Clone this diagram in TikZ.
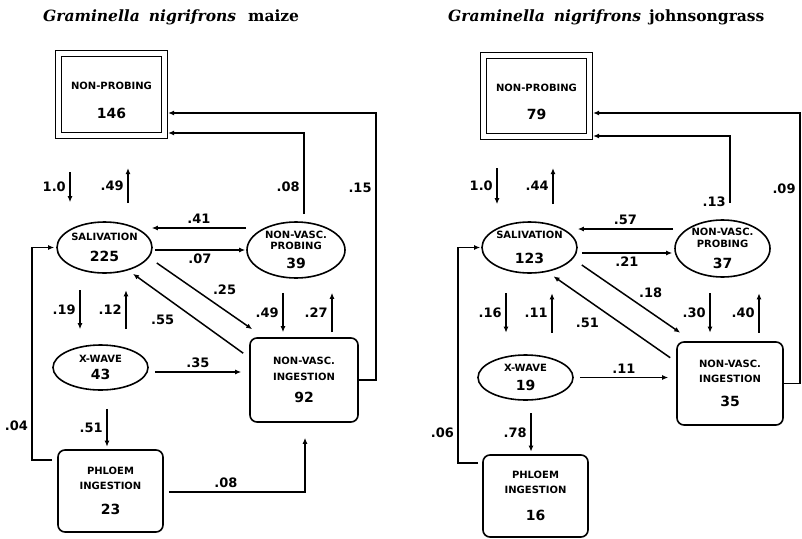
\documentclass[tikz,border=0pt]{standalone}
\usepackage{fontspec}
\setmainfont{DejaVu Sans}
\newfontfamily\titlefont{DejaVu Serif}
\usetikzlibrary{arrows.meta,calc,shapes.geometric}
\newcommand{\stname}{\fontsize{10}{12}\selectfont\bfseries}
\newcommand{\stcount}{\fontsize{14}{16}\selectfont\bfseries}
\tikzset{
  state/.style={draw, ellipse, line width=1.6pt, inner sep=0pt, align=center, font=\stname, minimum width=95pt, minimum height=51pt},
  ingbox/.style={draw, rounded corners=7pt, line width=1.6pt, inner sep=0pt, align=center, font=\stname, minimum width=106pt, minimum height=83pt},
  startbox/.style={draw, double, double distance=4.4pt, line width=1.4pt, inner sep=0pt, outer sep=3.6pt, align=center, font=\stname, minimum width=106pt, minimum height=82pt},
  line/.style={-{Latex[length=6pt,width=5pt]}, line width=1.5pt},
  prob/.style={font=\fontsize{13}{15}\selectfont\bfseries, inner sep=1.5pt},
  heading/.style={font=\titlefont\fontsize{15.5}{19}\selectfont\bfseries, anchor=west, inner sep=0pt}
}
\begin{document}
\begin{tikzpicture}[x=1pt, y=-1pt]
  \useasboundingbox (0,0) rectangle (802,538);
  % maize
  \node[heading] (ttl1) at (43,17) {\itshape Graminella\hspace{9pt}nigrifrons\hspace{12pt}\upshape maize};
  \node[startbox] (np1) at (111.5,94.5) {\rule{0pt}{19pt}NON-PROBING\\[16.5pt]{\stcount 146}};
  \node[state] (sal1) at (104.5,247.5) {SALIVATION\\[9.5pt]{\stcount 225}};
  \node[state, minimum width=98pt, minimum height=56pt] (prb1) at (296,250) {NON-VASC.\\[-1pt]PROBING\\[6.5pt]{\stcount 39}};
  \node[state, minimum height=45pt] (xw1) at (100.5,367.5) {X-WAVE\\[4.5pt]{\stcount 43}};
  \node[ingbox, minimum width=108pt, minimum height=84pt] (ing1) at (304,380) {NON-VASC.\\[4pt]INGESTION\\[9.5pt]{\stcount 92}};
  \node[ingbox, minimum width=105pt, minimum height=82pt] (phl1) at (110.5,491) {PHLOEM\\[3pt]INGESTION\\[13.5pt]{\stcount 23}};
  \draw[line] ($(np1.south)+(-41.5,33)$) -- node[prob, left=2pt] {1.0} ($(sal1.north)+(-34.5,-19)$);
  \draw[line] ($(sal1.north)+(23.5,-18)$) -- node[prob, left=2pt] {.49} ($(np1.south)+(16.5,29)$);
  \draw[line] ($(prb1.north)+(8,-7)$) |- node[prob, pos=0.17, left=2pt] {.08} ($(np1.east)+(0,38.5)$);
  \draw[line] (ing1.east) -- ++(17,0) |- node[prob, pos=0.36, left=2pt] {.15} ($(np1.east)+(0,18.5)$);
  \draw[line] ($(prb1.west)+(0,-22)$) -- node[prob, above=2pt] {.41} ($(sal1.east)+(-1,-19.5)$);
  \draw[line] ($(sal1.east)+(2,2.5)$) -- node[prob, below=2pt] {.07} ($(prb1.west)+(-1,0)$);
  \draw[line] ($(sal1.east)+(4,15.5)$) -- node[prob, pos=0.71, yshift=20pt] {.25} ($(ing1.north west)+(3,-8)$);
  \draw[line] ($(ing1.north west)+(-6,16)$) -- node[prob, pos=0.73, yshift=-25pt] {.55} ($(sal1.south)+(28.5,0)$);
  \draw[line] ($(sal1.south)+(-24.5,16.5)$) -- node[prob, left=2pt] {.19} ($(xw1.north)+(-20.5,-15)$);
  \draw[line] ($(xw1.north)+(25.5,-15)$) -- node[prob, left=2pt] {.12} ($(sal1.south)+(21.5,16.5)$);
  \draw[line] ($(prb1.south)+(-13,14)$) -- node[prob, left=2pt] {.49} ($(ing1.north)+(-21,-5)$);
  \draw[line] ($(ing1.north)+(28,-5)$) -- node[prob, left=2pt] {.27} ($(prb1.south)+(36,14)$);
  \draw[line] ($(xw1.east)+(6,4.5)$) -- node[prob, above=2pt] {.35} ($(ing1.west)+(-8,-8)$);
  \draw[line] ($(xw1.south)+(6.5,18)$) -- node[prob, left=2pt] {.51} ($(phl1.north)+(-3.5,-2.5)$);
  \draw[line] ($(phl1.west)+(-5,-31)$) -- ++(-20,0) |- node[prob, pos=0.08, left=2pt] {.04} ($(sal1.west)+(-2,0)$);
  \draw[line] ($(phl1.east)+(5,1)$) -| node[prob, pos=0.21, above=2pt] {.08} ($(ing1.south)+(1,15)$);
  % johnsongrass
  \node[heading] (ttl2) at (448,17) {\itshape Graminella\hspace{9pt}nigrifrons\hspace{8pt}\upshape johnsongrass};
  \node[startbox, minimum height=81pt] (np2) at (536.5,96) {\rule{0pt}{19pt}NON-PROBING\\[16.5pt]{\stcount 79}};
  \node[state] (sal2) at (529.5,247.5) {SALIVATION\\[13.5pt]{\stcount 123}};
  \node[state, minimum height=57pt] (prb2) at (722.5,248.5) {NON-VASC.\\[0pt]PROBING\\[8.5pt]{\stcount 37}};
  \node[state, minimum height=45pt] (xw2) at (525.5,377.5) {X-WAVE\\[6.5pt]{\stcount 19}};
  \node[ingbox] (ing2) at (730,383.5) {NON-VASC.\\[3pt]INGESTION\\[11.5pt]{\stcount 35}};
  \node[ingbox, minimum width=105pt, minimum height=82pt] (phl2) at (535.5,496) {PHLOEM\\[3pt]INGESTION\\[14.5pt]{\stcount 16}};
  \draw[line] ($(np2.south)+(-39.5,28)$) -- node[prob, left=2pt] {1.0} ($(sal2.north)+(-32.5,-17)$);
  \draw[line] ($(sal2.north)+(23.5,-17)$) -- node[prob, left=2pt] {.44} ($(np2.south)+(16.5,28)$);
  \draw[line] ($(prb2.north)+(7.5,-16)$) |- node[prob, pos=0.01, left=2pt] {.13} ($(np2.east)+(0,40)$);
  \draw[line] (ing2.east) -- ++(16,0) |- node[prob, pos=0.36, left=2pt] {.09} ($(np2.east)+(0,17)$);
  \draw[line] ($(prb2.west)+(-1,-19.5)$) -- node[prob, above=2pt] {.57} ($(sal2.east)+(0,-18.5)$);
  \draw[line] ($(sal2.east)+(4,5.5)$) -- node[prob, below=2pt] {.21} ($(prb2.west)+(-2,4.5)$);
  \draw[line] ($(sal2.east)+(4,17.5)$) -- node[prob, pos=0.7, yshift=20pt] {.18} ($(ing2.north west)+(4,-8.5)$);
  \draw[line] ($(ing2.north west)+(-6,16.5)$) -- node[prob, pos=0.71, yshift=-23pt] {.51} ($(sal2.south)+(24,2.5)$);
  \draw[line] ($(sal2.south)+(-23.5,19.5)$) -- node[prob, left=2pt] {.16} ($(xw2.north)+(-19.5,-21.5)$);
  \draw[line] ($(xw2.north)+(26.5,-21.5)$) -- node[prob, left=2pt] {.11} ($(sal2.south)+(22.5,19.5)$);
  \draw[line] ($(prb2.south)+(-12.5,15.5)$) -- node[prob, left=2pt] {.30} ($(ing2.north)+(-20,-8.5)$);
  \draw[line] ($(ing2.north)+(29,-8.5)$) -- node[prob, left=2pt] {.40} ($(prb2.south)+(36.5,15.5)$);
  \draw[line] ($(xw2.east)+(6,0)$) -- node[prob, above=2pt] {.11} ($(ing2.west)+(-8,-6)$);
  \draw[line] ($(xw2.south)+(5.5,12.5)$) -- node[prob, left=2pt] {.78} ($(phl2.north)+(-4.5,-2.5)$);
  \draw[line] ($(phl2.west)+(-4,-33)$) -- ++(-20,0) |- node[prob, pos=0.07, left=2pt] {.06} ($(sal2.west)+(-1,0)$);
\end{tikzpicture}
\end{document}
